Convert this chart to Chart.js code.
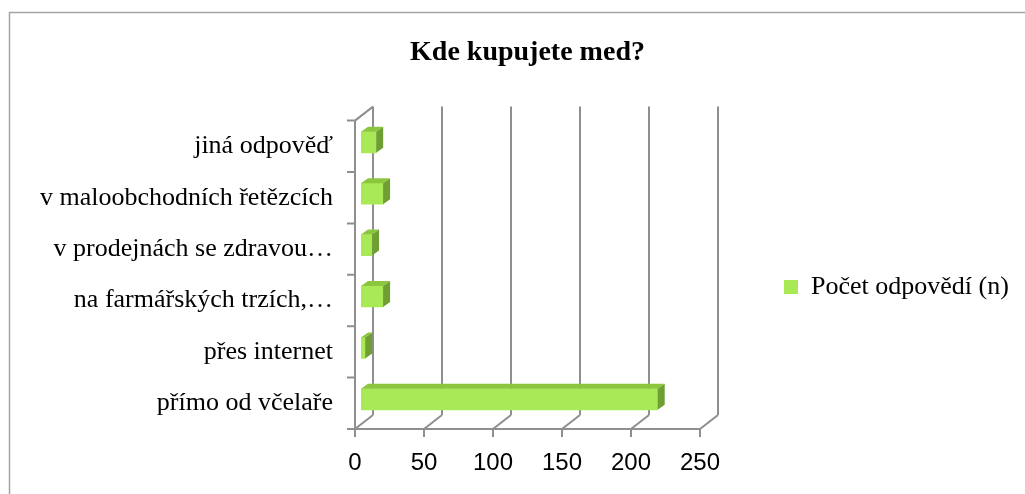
<!DOCTYPE html>
<html>
<head>
  <title>Kde kupujete med?</title>
  <script src="https://cdn.jsdelivr.net/npm/chart.js"></script>
  <style>
    body { margin: 0; background: #fff; }
    #chart { display: block; }
  </style>
</head>
<body>
  <canvas id="chart" width="1025" height="494"></canvas>
  <script>
    // --- DATA (top to bottom, as shown) ---
    const categories = [
      'jiná odpověď',
      'v maloobchodních řetězcích',
      'v prodejnách se zdravou…',
      'na farmářských trzích,…',
      'přes internet',
      'přímo od včelaře'
    ];
    const answers = [11, 16, 8, 16, 3, 215];
    const seriesName = 'Počet odpovědí (n)';
    const xTicks = [0, 50, 100, 150, 200, 250];

    // --- STYLE ---
    const FRONT = '#a8e955';
    const TOP = '#8cc63f';
    const SIDE = '#6f9f33';
    const GREY = '#8f8f8f';
    const SERIF = "'Liberation Serif', 'Times New Roman', serif";
    const SANS = "'Liberation Sans', Arial, sans-serif";
    const WALL = { dx: 18, dy: 14 };   // depth of the 3D walls
    const BAR = { dx: 7, dy: 5 };      // depth of a bar
    const BAR_SHIFT = { x: 6, y: -4 }; // bars sit a bit inside the box

    // draws the grey 3D box, the outer border and the bar faces
    const threeD = {
      id: 'threeD',
      beforeLayout(chart) {
        // legend takes the whole space right of the plot
        const lg = chart.legend;
        if (lg && !lg._wide) {
          const fit = lg.fit;
          lg.fit = function () { fit.call(this); this.width = 325; };
          lg._wide = true;
        }
      },
      afterLayout(chart) {
        const lg = chart.legend;
        lg.left = 774;
        lg.top = 287 - 60;
        lg.bottom = 287 + 60;
      },
      beforeDraw(chart) {
        const ctx = chart.ctx;
        ctx.save();
        ctx.strokeStyle = '#a3a3a3';
        ctx.lineWidth = 1.5;
        ctx.strokeRect(9.5, 12.5, 1100, 600);
        ctx.restore();
      },
      beforeDatasetsDraw(chart) {
        const { ctx, chartArea: a, scales: { x, y } } = chart;
        ctx.save();
        ctx.strokeStyle = GREY;
        ctx.lineWidth = 2;
        ctx.beginPath();
        xTicks.forEach(v => {
          const px = x.getPixelForValue(v);
          ctx.moveTo(px + WALL.dx, a.top - WALL.dy);
          ctx.lineTo(px + WALL.dx, a.bottom - WALL.dy);
          ctx.moveTo(px, a.bottom);
          ctx.lineTo(px + WALL.dx, a.bottom - WALL.dy);
          ctx.moveTo(px, a.bottom);
          ctx.lineTo(px, a.bottom + 8);
        });
        ctx.moveTo(a.left, a.bottom);
        ctx.lineTo(a.right, a.bottom);
        ctx.moveTo(a.left, a.bottom);
        ctx.lineTo(a.left, a.top);
        ctx.lineTo(a.left + WALL.dx, a.top - WALL.dy);
        for (let i = 0; i <= categories.length; i++) {
          const py = y.getPixelForValue(i - 0.5);
          ctx.moveTo(a.left - 8, py);
          ctx.lineTo(a.left, py);
        }
        ctx.stroke();
        ctx.restore();

        // bars are drawn by Chart.js, just shifted into the box
        ctx.save();
        ctx.translate(BAR_SHIFT.x, BAR_SHIFT.y);
      },
      afterDatasetsDraw(chart) {
        const ctx = chart.ctx;
        chart.getDatasetMeta(0).data.forEach(el => {
          const { x, y, base, height } = el.getProps(['x', 'y', 'base', 'height'], true);
          const y0 = y - height / 2, y1 = y + height / 2;
          // top face
          ctx.fillStyle = TOP;
          ctx.beginPath();
          ctx.moveTo(base, y0);
          ctx.lineTo(x, y0);
          ctx.lineTo(x + BAR.dx, y0 - BAR.dy);
          ctx.lineTo(base + BAR.dx, y0 - BAR.dy);
          ctx.closePath();
          ctx.fill();
          // side face
          ctx.fillStyle = SIDE;
          ctx.beginPath();
          ctx.moveTo(x, y0);
          ctx.lineTo(x + BAR.dx, y0 - BAR.dy);
          ctx.lineTo(x + BAR.dx, y1 - BAR.dy);
          ctx.lineTo(x, y1);
          ctx.closePath();
          ctx.fill();
        });
        ctx.restore();
      }
    };

    new Chart(document.getElementById('chart'), {
      type: 'bar',
      data: {
        labels: categories,
        datasets: [{
          label: seriesName,
          data: answers,
          backgroundColor: FRONT,
          borderWidth: 0,
          barThickness: 21
        }]
      },
      options: {
        indexAxis: 'y',
        responsive: false,
        animation: false,
        layout: { padding: 0 },
        plugins: {
          title: {
            display: true,
            fullSize: false,
            text: 'Kde kupujete med?',
            color: '#000',
            font: { family: SERIF, size: 28, weight: 'bold' },
            padding: { top: 36, bottom: 51 }
          },
          legend: {
            position: 'right',
            fullSize: false,
            labels: {
              color: '#000',
              font: { family: SERIF, size: 26 },
              boxWidth: 14,
              boxHeight: 14,
              padding: 10
            }
          },
          tooltip: { enabled: false }
        },
        scales: {
          x: {
            min: xTicks[0],
            max: xTicks[xTicks.length - 1],
            afterBuildTicks: s => { s.ticks = xTicks.map(v => ({ value: v })); },
            afterFit: s => { s.height = 65; },
            grid: { display: false, drawTicks: false },
            border: { display: false },
            ticks: { color: '#000', font: { family: SANS, size: 24 }, padding: 20 }
          },
          y: {
            afterFit: s => { s.width = 355; },
            grid: { display: false, drawTicks: false },
            border: { display: false },
            ticks: { color: '#000', font: { family: SERIF, size: 26 }, padding: 22 }
          }
        }
      },
      plugins: [threeD]
    });
  </script>
</body>
</html>
